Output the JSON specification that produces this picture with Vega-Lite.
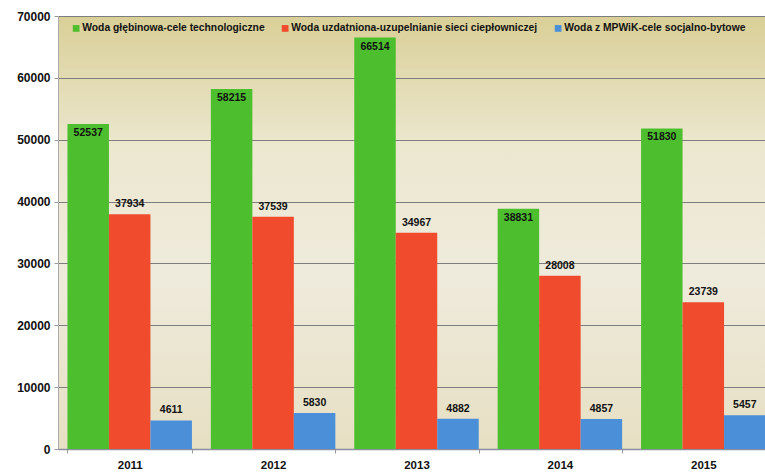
{
  "$schema": "https://vega.github.io/schema/vega-lite/v6.json",
  "width": 707,
  "height": 433,
  "autosize": {"type": "none"},
  "padding": {"left": 58, "top": 16, "right": 0, "bottom": 26},
  "background": "white",
  "view": {
    "stroke": null,
    "fill": {
      "gradient": "linear",
      "x1": 0, "y1": 0, "x2": 0, "y2": 1,
      "stops": [
        {"offset": 0, "color": "#d9cf97"},
        {"offset": 0.3, "color": "#ece7cf"},
        {"offset": 0.6, "color": "#efebdc"},
        {"offset": 1, "color": "#e6dfc3"}
      ]
    }
  },
  "data": {
    "values": [
      {"year": "2011", "series": "Woda głębinowa-cele technologiczne", "value": 52537},
      {"year": "2011", "series": "Woda uzdatniona-uzupelnianie sieci ciepłowniczej", "value": 37934},
      {"year": "2011", "series": "Woda z MPWiK-cele socjalno-bytowe", "value": 4611},
      {"year": "2012", "series": "Woda głębinowa-cele technologiczne", "value": 58215},
      {"year": "2012", "series": "Woda uzdatniona-uzupelnianie sieci ciepłowniczej", "value": 37539},
      {"year": "2012", "series": "Woda z MPWiK-cele socjalno-bytowe", "value": 5830},
      {"year": "2013", "series": "Woda głębinowa-cele technologiczne", "value": 66514},
      {"year": "2013", "series": "Woda uzdatniona-uzupelnianie sieci ciepłowniczej", "value": 34967},
      {"year": "2013", "series": "Woda z MPWiK-cele socjalno-bytowe", "value": 4882},
      {"year": "2014", "series": "Woda głębinowa-cele technologiczne", "value": 38831},
      {"year": "2014", "series": "Woda uzdatniona-uzupelnianie sieci ciepłowniczej", "value": 28008},
      {"year": "2014", "series": "Woda z MPWiK-cele socjalno-bytowe", "value": 4857},
      {"year": "2015", "series": "Woda głębinowa-cele technologiczne", "value": 51830},
      {"year": "2015", "series": "Woda uzdatniona-uzupelnianie sieci ciepłowniczej", "value": 23739},
      {"year": "2015", "series": "Woda z MPWiK-cele socjalno-bytowe", "value": 5457}
    ]
  },
  "encoding": {
    "x": {
      "field": "year", "type": "nominal", "title": null,
      "scale": {"range": [0, 717], "paddingInner": 0.132, "paddingOuter": 0.066},
      "axis": {
        "labelAngle": 0, "labelFont": "Liberation Sans", "labelFontWeight": "bold",
        "labelFontSize": 11.5, "labelColor": "#111", "labelPadding": 6,
        "tickBand": "extent", "tickSize": 4, "tickColor": "#999",
        "domainColor": "#8a8fa0", "domainWidth": 1.5, "grid": false
      }
    },
    "xOffset": {
      "field": "series", "type": "nominal",
      "sort": ["Woda głębinowa-cele technologiczne", "Woda uzdatniona-uzupelnianie sieci ciepłowniczej", "Woda z MPWiK-cele socjalno-bytowe"],
      "scale": {"paddingInner": 0, "paddingOuter": 0}
    },
    "y": {
      "field": "value", "type": "quantitative", "title": null,
      "scale": {"domain": [0, 70000], "nice": false},
      "axis": {
        "values": [0, 10000, 20000, 30000, 40000, 50000, 60000, 70000],
        "format": "d",
        "labelFont": "Liberation Sans", "labelFontWeight": "bold", "labelFontSize": 12,
        "labelColor": "#111", "labelPadding": 4, "tickSize": 4, "tickColor": "#999",
        "domainColor": "#aaa", "grid": true, "gridColor": "#7d7d7d", "gridWidth": 1
      }
    }
  },
  "layer": [
    {
      "mark": {"type": "bar"},
      "encoding": {
        "color": {
          "field": "series", "type": "nominal", "title": null,
          "scale": {
            "domain": ["Woda głębinowa-cele technologiczne", "Woda uzdatniona-uzupelnianie sieci ciepłowniczej", "Woda z MPWiK-cele socjalno-bytowe"],
            "range": ["#4dbf2e", "#ef4b2c", "#4a8fd8"]
          },
          "legend": {
            "orient": "none", "direction": "horizontal", "legendX": 13, "legendY": 7,
            "symbolType": "square", "symbolSize": 45, "symbolStrokeWidth": 0,
            "labelFont": "Liberation Sans", "labelFontWeight": "bold", "labelFontSize": 10.3,
            "labelColor": "#111", "labelOffset": 1, "columnPadding": 15, "labelLimit": 400
          }
        }
      }
    },
    {
      "transform": [{"filter": "datum.series === 'Woda głębinowa-cele technologiczne'"}],
      "mark": {"type": "text", "baseline": "top", "dy": 4, "font": "Liberation Sans", "fontWeight": "bold", "fontSize": 10.5, "color": "#111"},
      "encoding": {"text": {"field": "value", "type": "quantitative", "format": "d"}}
    },
    {
      "transform": [{"filter": "datum.series !== 'Woda głębinowa-cele technologiczne'"}],
      "mark": {"type": "text", "baseline": "bottom", "dy": -5, "font": "Liberation Sans", "fontWeight": "bold", "fontSize": 10.5, "color": "#111"},
      "encoding": {"text": {"field": "value", "type": "quantitative", "format": "d"}}
    }
  ]
}
